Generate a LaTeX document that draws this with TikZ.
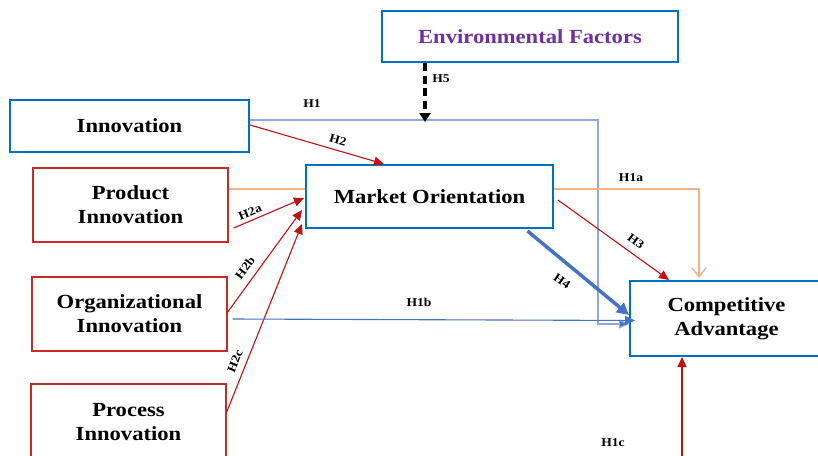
\documentclass[tikz,border=0pt]{standalone}
\usepackage{fontspec}
\setmainfont{Liberation Serif}[FakeStretch=1.13]
\usetikzlibrary{arrows.meta,calc}
\definecolor{boxblue}{RGB}{0,112,192}
\definecolor{boxred}{RGB}{204,40,40}
\definecolor{arrred}{RGB}{196,16,16}
\definecolor{lblue}{RGB}{142,169,219}
\definecolor{mblue}{RGB}{68,114,196}
\definecolor{orng}{RGB}{244,177,131}
\definecolor{purp}{RGB}{112,48,160}
\begin{document}
\begin{tikzpicture}[x=1pt,y=-1pt,
  boxtext/.style={inner sep=0pt,align=center,fill=white,font=\fontsize{20}{24}\selectfont\bfseries},
  bluebox/.style={boxtext,draw=boxblue,line width=2pt},
  redbox/.style={boxtext,draw=boxred,line width=1.4pt},
  lbl/.style={inner sep=0pt,font=\fontsize{12}{14}\selectfont\bfseries},
  redarr/.style={draw=arrred,line width=1.1pt,-{Triangle[length=10pt,width=9pt]}},
  bluearr/.style={draw=mblue,line width=1.1pt,-{Triangle[length=10pt,width=9pt]}},
  lbluearr/.style={draw=lblue,line width=1.2pt,-{Triangle[length=10pt,width=9pt,fill=mblue]}},
  thickarr/.style={draw=mblue,line width=3.5pt,-{Triangle[length=12pt,width=12pt]}},
  orline/.style={draw=orng,line width=1.4pt},
  orarr/.style={orline,-{Straight Barb[length=9pt,width=14pt]}},
  dasharr/.style={draw=black,line width=3.2pt,dash pattern=on 8pt off 4.5pt,-{Triangle[length=9pt,width=11pt]}}
]
\useasboundingbox (0,0) rectangle (818,455);
\fill[white] (0,0) rectangle (818,455);
\clip (0,0) rectangle (818,455);

% boxes
\node[bluebox,minimum width=296pt,minimum height=51pt] (env) at (530,36.5) {\textcolor{purp}{Environmental Factors}};
\node[bluebox,minimum width=239pt,minimum height=52pt] (inn) at (129.5,126) {Innovation};
\node[redbox,minimum width=195pt,minimum height=74pt] (prod) at (130.5,205) {Product\\Innovation};
\node[redbox,minimum width=195pt,minimum height=74pt] (org) at (129.5,314) {Organizational\\Innovation};
\node[redbox,minimum width=195pt,minimum height=76pt] (proc) at (128.5,422) {Process\\Innovation};
\node[bluebox,minimum width=247pt,minimum height=63pt] (mo) at (429.5,196.5) {Market Orientation};
\node[bluebox,minimum width=193pt,minimum height=75pt] (comp) at (726.5,318.5) {Competitive\\Advantage};

\coordinate (h5tip) at (425,122);
\coordinate (h1c) at (682,460);

% connectors
\draw[lbluearr] ([yshift=6pt]inn.east) -| (598,324) -- ([yshift=-5.5pt]comp.west);
\draw[dasharr] ([xshift=-105pt]env.south) -- (h5tip);
\draw[redarr] ([yshift=1pt]inn.east) -- ([xshift=79pt]mo.north west);
\draw[orline] ([yshift=16pt]prod.east) -- ([yshift=16pt]prod.east -| mo.west);
\draw[orarr] ([yshift=7.5pt]mo.east) -| ([xshift=70pt,yshift=2pt]comp.north west);
\draw[redarr] ([xshift=5pt,yshift=-23pt]prod.east) -- ([xshift=-1pt,yshift=-1.5pt]mo.west);
\draw[redarr] ([yshift=2pt]org.east) -- ([xshift=-3pt,yshift=-13.5pt]mo.west);
\draw[redarr] ([yshift=10pt]proc.east) -- ([xshift=-3pt,yshift=-27.5pt]mo.west);
\draw[bluearr] ([xshift=5pt,yshift=-5pt]org.east) -- ([xshift=6pt,yshift=-2pt]comp.west);
\draw[redarr] ([xshift=4pt,yshift=-3.5pt]mo.east) -- ([xshift=40pt]comp.north west);
\draw[thickarr] ([xshift=98pt,yshift=-2pt]mo.south) -- ([yshift=3.5pt]comp.west);
\draw[redarr] (h1c) -- (h1c |- comp.south);

% labels
\node[lbl] (l1) at (312,104) {H1};
\node[lbl,rotate=-16] (l2) at (338,140) {H2};
\node[lbl,rotate=22] (l2a) at (250,212) {H2a};
\node[lbl,rotate=53] (l2b) at (245,268) {H2b};
\node[lbl,rotate=68] (l2c) at (235,361) {H2c};
\node[lbl] (l1b) at (419,302) {H1b};
\node[lbl] (l1a) at (631,178) {H1a};
\node[lbl,rotate=-36] (l3) at (636,241) {H3};
\node[lbl,rotate=-35] (l4) at (562,281) {H4};
\node[lbl] (l5) at (441,79) {H5};
\node[lbl] (l1c) at (613,443) {H1c};
\end{tikzpicture}
\end{document}
